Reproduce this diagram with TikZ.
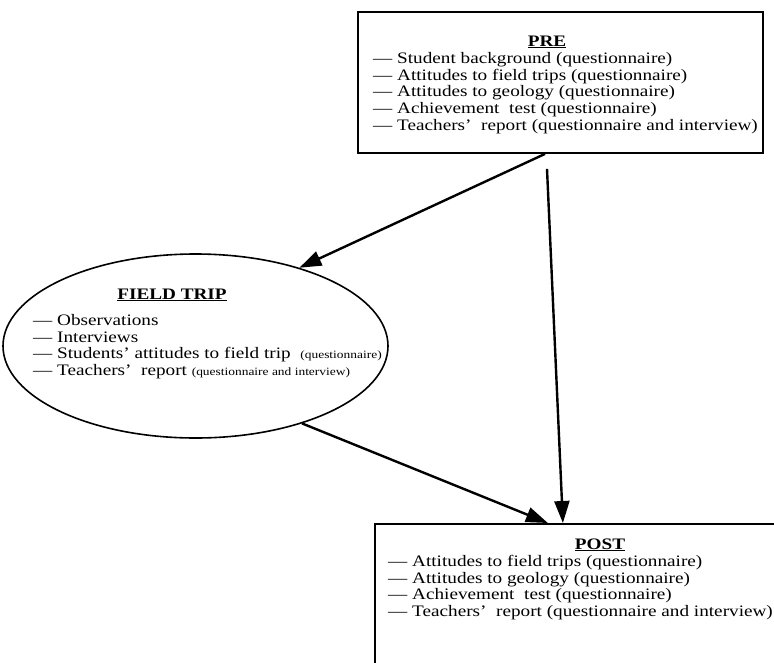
\documentclass[tikz,border=0pt]{standalone}
\usepackage{fontspec}
\setmainfont{Liberation Serif}[FakeStretch=1.2]
\usetikzlibrary{positioning,shapes.geometric,arrows.meta}

\begin{document}
\begin{tikzpicture}[x=1pt, y=-1pt,
  stage/.style = {draw, rectangle, line width=1.8pt, inner sep=0pt},
  tripshape/.style = {draw, ellipse, line width=1.6pt, inner sep=0pt},
  heading/.style = {font=\fontsize{16}{16}\selectfont\bfseries, anchor=base, inner sep=0pt},
  items/.style = {font=\fontsize{16}{16.7}\selectfont, align=left, anchor=north west, inner sep=0pt},
  link/.style = {line width=2.4pt, -{Triangle[length=22pt,width=15pt]}}]
\useasboundingbox (0,0) rectangle (774,662);
\clip (0,0) rectangle (774,662);

% the three stages
\node[stage, minimum width=405pt, minimum height=141pt] (pre) at (560.5,82.5) {};
\node[tripshape, minimum width=385pt, minimum height=184pt] (field) at (195.5,346) {};
\node[stage, minimum width=420pt, minimum height=170pt, anchor=north west] (post) at (374,523) {};

% headings
\node[heading] (pretitle) at (547,46) {\underline{PRE}};
\node[heading] (fieldtitle) at (172,299) {\underline{FIELD TRIP}};
\node[heading] (posttitle) at (600,549) {\underline{POST}};

% contents
\node[items] (prelist) at (373,52.1) {--- Student background (questionnaire)\\
  --- Attitudes to field trips (questionnaire)\\
  --- Attitudes to geology (questionnaire)\\
  --- Achievement\ \ test (questionnaire)\\
  --- Teachers'\ \ report (questionnaire and interview)};
\node[items] (fieldlist) at (33,314.1) {--- Observations\\
  --- Interviews\\
  --- Students' attitudes to field trip\ \ {\fontsize{11.2}{11.2}\selectfont(questionnaire)}\\
  --- Teachers'\ \ report {\fontsize{11.2}{11.2}\selectfont(questionnaire and interview)}};
\node[items] (postlist) at (388,555.1) {--- Attitudes to field trips (questionnaire)\\
  --- Attitudes to geology (questionnaire)\\
  --- Achievement\ \ test (questionnaire)\\
  --- Teachers'\ \ report (questionnaire and interview)};

% connectors
\draw[link] ([xshift=-15.5pt]pre.south) -- (field.37);
\draw[link] ([xshift=-13.5pt,yshift=-15pt]pre.south) -- ([xshift=-22pt]post.north);
\draw[link] (field.-36) -- ([xshift=-37pt]post.north);
\end{tikzpicture}
\end{document}
